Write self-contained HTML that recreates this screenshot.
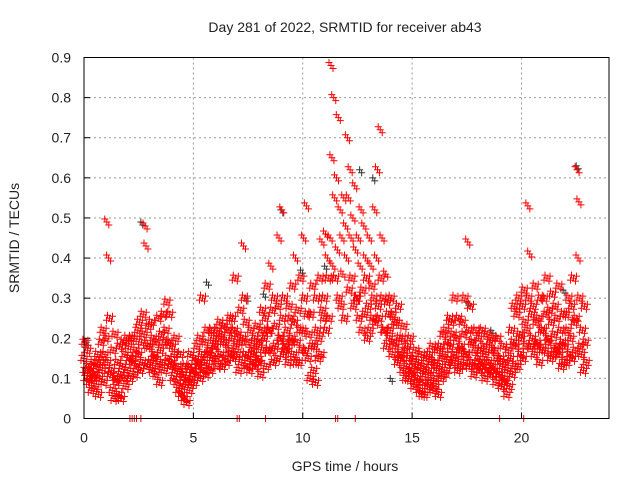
<!DOCTYPE html>
<html><head><meta charset="utf-8"><style>
html,body{margin:0;padding:0;background:#fff;}
svg{display:block;font-family:"Liberation Sans",sans-serif;}
</style></head><body>
<svg id="chart" width="640" height="480" xmlns="http://www.w3.org/2000/svg">
<rect width="640" height="480" fill="#fff"/>
<text x="345" y="32" font-size="14" text-anchor="middle" fill="#222">Day 281 of 2022, SRMTID for receiver ab43</text>
<text x="345" y="471" font-size="14" text-anchor="middle" fill="#222">GPS time / hours</text>
<text transform="translate(19,238) rotate(-90)" font-size="14" text-anchor="middle" fill="#222">SRMTID / TECUs</text>
<g id="grid"></g>
<g id="ticks"></g>
<g id="pts"></g>
<rect x="84" y="57.5" width="525" height="361" fill="none" stroke="#000" stroke-width="1"/>
</svg>
<script>
const xTicks=[0,5,10,15,20];
const yTicks=[0,0.1,0.2,0.3,0.4,0.5,0.6,0.7,0.8,0.9];
const slotHours=0.25;
// values in hundredths of TECU, 6 per quarter-hour slot, per hour row
const hourValues=[
[15,19,12,10,17,13, 9,12,7,10,14,11, 11,8,13,16,6,10, 14,19,12,22,9,16],
[20,49,14,40,25,11, 12,7,17,5,21,10, 9,14,6,18,11,5, 13,19,10,16,8,20],
[12,18,15,10,20,14, 15,20,11,17,13,22, 16,24,12,19,14,26, 21,48,43,13,18,23],
[18,14,24,12,20,16, 15,11,19,13,25,9, 17,21,14,26,12,19, 22,29,15,19,26,13],
[14,18,10,16,12,20, 9,13,7,11,16,6, 8,11,5,13,9,4, 10,13,7,16,9,12],
[12,9,15,11,18,14, 13,20,10,16,30,12, 14,19,11,22,16,13, 17,12,22,15,20,18],
[18,15,22,13,20,24, 16,21,13,19,23,15, 19,14,22,17,25,16, 20,25,15,22,35,18],
[16,21,12,19,27,14, 20,43,30,16,24,13, 15,19,12,22,17,14, 16,20,13,18,23,15],
[14,19,11,22,27,17, 20,25,13,33,17,22, 22,38,17,27,14,30, 18,23,15,28,45,20],
[20,52,25,16,30,18, 17,22,14,28,19,25, 20,33,16,24,40,14, 19,27,14,22,35,17],
[22,45,30,17,53,26, 15,21,10,26,18,33, 12,18,9,30,22,15, 20,35,16,44,27,25],
[30,46,22,40,35,25, 45,88,65,38,80,55, 35,60,42,75,30,52, 28,45,36,55,25,48],
[40,70,55,32,62,45, 35,50,28,58,42,30, 30,45,25,38,52,22, 32,48,26,40,35,20],
[28,45,22,38,33,25, 30,52,24,40,62,28, 25,72,35,45,30,22, 22,36,18,29,26,20],
[22,30,16,26,19,24, 18,24,14,28,20,16, 15,20,12,23,17,10, 13,18,10,15,20,12],
[11,15,8,13,17,9, 10,14,7,12,16,6, 9,13,6,11,15,8, 12,16,9,14,18,7],
[10,14,8,12,17,6, 13,18,10,15,21,11, 16,22,12,19,14,25, 18,24,14,21,16,30],
[15,20,12,25,17,13, 18,24,14,21,30,16, 16,44,22,13,28,19, 14,19,11,17,22,13],
[15,20,12,17,14,22, 13,18,10,16,21,12, 14,19,11,17,13,20, 12,17,9,15,20,11],
[11,15,8,13,18,10, 9,14,6,12,17,8, 15,22,11,19,28,13, 18,26,13,30,21,16],
[20,28,15,32,24,18, 22,53,30,41,18,26, 20,28,16,33,24,19, 18,25,14,30,22,17],
[22,30,17,26,35,20, 19,27,15,24,31,16, 21,28,17,25,18,33, 16,22,13,19,26,14],
[18,26,14,22,30,16, 20,28,15,35,24,17, 25,62,40,54,30,18, 16,22,12,28,19,14]
];
const zeroTimes=[2.1,2.2,2.3,2.4,2.6,7.0,7.1,8.3,11.5,11.6,12.4,19.0,20.1];
const blackTimes=[0.1,2.6,5.6,7.4,8.2,9.0,9.9,11.0,12.6,13.2,14.0,17.5,18.6,21.9,22.5];
const blackValues=[0.19,0.49,0.34,0.30,0.31,0.52,0.37,0.38,0.62,0.60,0.10,0.29,0.22,0.32,0.63];

const NS="http://www.w3.org/2000/svg";
const X0=84,X1=609,Y0=418.5,Y1=57.5;
// marker cluster pixel offsets (style only)
const cluster=[[0,0],[2,3],[-2,-3],[3,-2],[-3,2]];
function xs(t){return X0+t*(X1-X0)/24;}
function ys(v){return Y0-v*(Y0-Y1)/0.9;}
function mk(tag,attrs,parent){const e=document.createElementNS(NS,tag);for(const k in attrs)e.setAttribute(k,attrs[k]);parent.appendChild(e);return e;}
const grid=document.getElementById('grid'),ticks=document.getElementById('ticks'),pts=document.getElementById('pts');
xTicks.forEach(t=>{
  const x=xs(t);
  if(t>0){const g=mk('line',{x1:x,x2:x,y1:Y1,y2:Y0,stroke:'#999','stroke-dasharray':'2,3'},grid);
  
  }
  mk('line',{x1:x,x2:x,y1:Y0,y2:Y0-6,stroke:'#000'},ticks);
  const l=mk('text',{x:x,y:Y0+24,'font-size':'14','text-anchor':'middle',fill:'#222'},ticks);
  l.textContent=t;
  
  
});
yTicks.forEach(v=>{
  const y=ys(v);
  if(v>0&&v<0.9){const g=mk('line',{x1:X0,x2:X1,y1:y,y2:y,stroke:'#999','stroke-dasharray':'2,3'},grid);
  
  }
  mk('line',{x1:X0,x2:X0+6,y1:y,y2:y,stroke:'#000'},ticks);
  const l=mk('text',{x:X0-13,y:y+5,'font-size':'14','text-anchor':'end',fill:'#222'},ticks);
  l.textContent=(v===0?'0':v.toFixed(1));
  
  
});
function plus(t,v,col,n){
  const x=xs(t),y=ys(v);
  let d='';
  for(let j=0;j<n;j++){const cx=x+cluster[j][0],cy=y+cluster[j][1];d+=`M${cx-3.5},${cy}h7M${cx},${cy-3.5}v7`;}
  const p=mk('path',{d:d,stroke:col,'stroke-width':'1',fill:'none'},pts);
  
  
}
blackTimes.forEach((t,i)=>plus(t,blackValues[i],'#333',2));
hourValues.forEach((row,h)=>{
  row.forEach((val,i)=>{
    const slot=Math.floor(i/6),k=i%6;
    const t=h+slot*slotHours+k*slotHours/6;
    plus(t,val/100,'#f00',val>35?3:5);
  });
});
zeroTimes.forEach(t=>plus(t,0,'#f00',1));
</script>
</body></html>
